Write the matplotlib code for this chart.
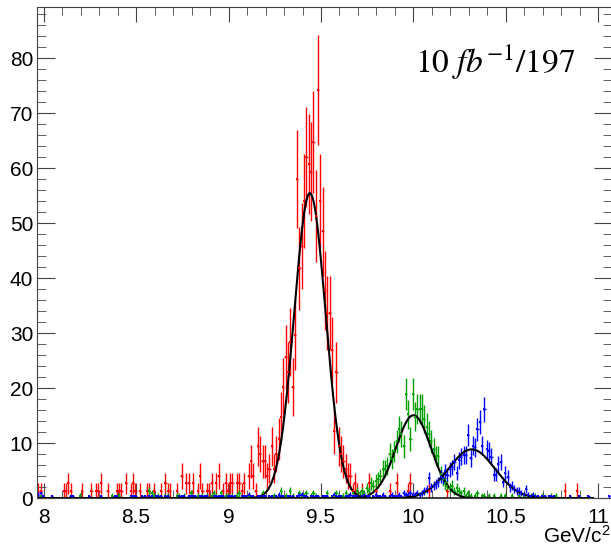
import numpy as np
import matplotlib
matplotlib.use("Agg")
import matplotlib.pyplot as plt
from matplotlib.ticker import MultipleLocator, FuncFormatter

plt.rcParams['font.family'] = ['Liberation Sans', 'DejaVu Sans']
plt.rcParams['mathtext.fontset'] = 'stix'

# binning in GeV/c^2
edge0 = 7.965
bin_w = 0.0125
nbins = 248
x_lo, x_hi = 7.966, 11.073
y_hi = 89.3

# per-event weights of the three weighted histograms
red_w = 1.35
green_w = 0.45
blue_w = 0.33

# entries per bin
red_n = [
    1, 1, 0, 0, 0, 0, 0, 0, 0, 0, 0, 1, 1, 2, 1, 0, 0, 0, 0, 1,
    0, 0, 0, 1, 0, 1, 1, 2, 0, 0, 1, 0, 0, 0, 1, 1, 1, 0, 2, 0,
    1, 2, 1, 0, 1, 0, 0, 1, 1, 0, 1, 0, 0, 1, 0, 2, 1, 1, 0, 0,
    1, 0, 3, 0, 2, 2, 0, 2, 0, 1, 3, 1, 0, 1, 1, 2, 0, 2, 3, 0,
    1, 2, 1, 2, 2, 0, 2, 2, 1, 2, 0, 3, 5, 3, 1, 7, 6, 5, 5, 3,
    4, 7, 4, 6, 8, 11, 15, 19, 17, 21, 15, 22, 43, 31, 34, 40, 46, 45, 44, 48,
    38, 55, 40, 36, 28, 25, 25, 20, 9, 17, 7, 6, 5, 4, 3, 3, 1, 2, 1, 0,
    1, 0, 0, 2, 0, 0, 1, 0, 0, 0, 0, 0, 1, 0, 0, 2, 0, 0, 0, 0,
    1, 2, 0, 0, 0, 0, 0, 0, 0, 1, 0, 0, 0, 0, 0, 0, 0, 1, 0, 0,
    0, 0, 0, 0, 0, 0, 0, 0, 0, 0, 0, 0, 0, 0, 0, 0, 0, 0, 0, 0,
    0, 0, 0, 0, 0, 0, 0, 0, 0, 0, 0, 0, 0, 0, 0, 0, 0, 0, 0, 0,
    0, 0, 0, 0, 0, 0, 0, 0, 1, 0, 0, 0, 0, 1, 0, 0, 0, 0, 0, 0,
    0, 0, 0, 0, 0, 0, 0, 0,
]

green_n = [
    0, 1, 0, 0, 0, 0, 0, 0, 0, 0, 0, 0, 0, 0, 0, 0, 0, 0, 1, 0,
    0, 0, 0, 0, 0, 0, 0, 0, 0, 0, 0, 0, 1, 0, 0, 1, 0, 0, 0, 0,
    0, 0, 0, 0, 0, 0, 0, 0, 3, 2, 1, 0, 1, 0, 0, 1, 1, 0, 0, 0,
    1, 1, 0, 1, 0, 0, 2, 0, 0, 1, 0, 1, 0, 1, 0, 1, 2, 1, 0, 2,
    0, 1, 1, 0, 1, 0, 1, 2, 0, 0, 0, 1, 0, 0, 0, 0, 0, 2, 0, 0,
    0, 0, 1, 0, 0, 3, 0, 1, 0, 3, 1, 0, 0, 2, 1, 1, 2, 0, 1, 2,
    1, 0, 0, 0, 0, 2, 0, 0, 1, 2, 1, 0, 1, 2, 1, 0, 2, 1, 3, 2,
    3, 2, 4, 3, 6, 5, 7, 8, 9, 12, 12, 13, 18, 16, 19, 23, 28, 26, 21, 42,
    34, 24, 42, 33, 36, 36, 36, 32, 29, 26, 23, 20, 17, 17, 10, 8, 6, 5, 4, 5,
    3, 4, 3, 2, 3, 1, 2, 1, 0, 1, 2, 0, 1, 1, 0, 1, 0, 1, 0, 0,
    1, 0, 1, 0, 0, 1, 0, 0, 1, 0, 1, 0, 0, 1, 0, 1, 0, 0, 1, 0,
    0, 0, 1, 0, 1, 0, 0, 0, 0, 0, 0, 0, 0, 0, 0, 0, 0, 0, 0, 0,
    0, 0, 0, 0, 0, 0, 0, 0,
]

blue_n = [
    2, 3, 1, 0, 0, 0, 1, 0, 0, 0, 0, 0, 0, 0, 1, 1, 0, 0, 0, 0,
    0, 0, 1, 0, 0, 0, 0, 1, 0, 0, 0, 0, 0, 1, 1, 0, 0, 0, 0, 0,
    1, 1, 1, 0, 0, 1, 1, 0, 1, 1, 0, 1, 1, 1, 0, 1, 1, 0, 0, 0,
    0, 1, 1, 1, 0, 1, 1, 1, 1, 0, 1, 1, 1, 1, 0, 0, 1, 1, 1, 1,
    1, 0, 1, 1, 1, 1, 0, 0, 1, 1, 1, 2, 1, 1, 0, 1, 1, 1, 1, 0,
    1, 1, 0, 1, 2, 1, 1, 0, 1, 1, 1, 0, 1, 2, 2, 1, 1, 0, 1, 1,
    1, 1, 0, 1, 1, 1, 0, 1, 2, 1, 1, 1, 0, 1, 1, 2, 1, 1, 1, 0,
    1, 2, 1, 1, 0, 1, 2, 1, 1, 2, 1, 0, 1, 2, 1, 1, 2, 1, 3, 2,
    2, 3, 2, 2, 3, 2, 3, 4, 5, 11, 6, 7, 8, 9, 12, 11, 15, 13, 16, 17,
    20, 14, 21, 23, 24, 24, 35, 22, 29, 28, 38, 42, 29, 49, 27, 26, 23, 13, 13, 19,
    20, 9, 14, 12, 6, 7, 5, 4, 4, 3, 2, 5, 2, 1, 2, 1, 1, 0, 1, 1,
    0, 1, 1, 1, 0, 0, 0, 0, 0, 0, 1, 0, 0, 0, 1, 0, 0, 0, 1, 0,
    0, 0, 0, 0, 0, 0, 0, 1,
]

# gaussian fits: amplitude, mean, sigma
red_fit = (55.5, 9.44, 0.085)
green_fit = (15.1, 10.0, 0.095)
blue_fit = (8.9, 10.315, 0.125)

edges = edge0 + bin_w * np.arange(nbins + 1)
centers = 0.5 * (edges[:-1] + edges[1:])

fig = plt.figure(figsize=(6.11, 5.46), dpi=100)
ax = fig.add_axes([37.3 / 611, 47.7 / 546, 574.6 / 611, 491.0 / 546])


def draw_hist(counts, w, color):
    n = np.array(counts, dtype=float)
    m = n > 0
    ax.errorbar(centers[m], n[m] * w, yerr=np.sqrt(n[m]) * w, xerr=bin_w / 2,
                fmt='s', ms=2.0, mew=0, color=color, ecolor=color,
                elinewidth=1.0, capsize=0, linestyle='none')


draw_hist(red_n, red_w, '#ff0000')
draw_hist(green_n, green_w, '#00a000')
draw_hist(blue_n, blue_w, '#0000ff')

xf = np.linspace(x_lo, 10.97, 600)
for a, mu, s in [red_fit, green_fit, blue_fit]:
    ax.plot(xf, a * np.exp(-0.5 * ((xf - mu) / s) ** 2), color='black', lw=1.5)

ax.set_xlim(x_lo, x_hi)
ax.set_ylim(0, y_hi)

ax.xaxis.set_major_locator(MultipleLocator(0.5))
ax.xaxis.set_minor_locator(MultipleLocator(0.1))
ax.yaxis.set_major_locator(MultipleLocator(10))
ax.yaxis.set_minor_locator(MultipleLocator(2))
ax.xaxis.set_major_formatter(FuncFormatter(lambda v, p: '%g' % v))

ax.tick_params(which='both', direction='in', top=True, right=True,
               labelsize=15, color='#444444')
ax.tick_params(axis='y', which='major', length=12.7, pad=3)
ax.tick_params(axis='y', which='minor', length=6.3)
ax.tick_params(axis='x', which='major', length=11, pad=7)
ax.tick_params(axis='x', which='minor', length=5.8)
for sp in ax.spines.values():
    sp.set_color('#444444')
    sp.set_linewidth(0.8)

fig.text(415 / 611, 1 - 73 / 546, r'$10\ fb^{-1}/197$', fontsize=24,
         ha='left', va='baseline')
fig.text(1.0, 1 - 536 / 546, r'GeV/c$^{\mathregular{2}}$', fontsize=15,
         ha='right', va='center')

fig.savefig('out.png', dpi=100)
